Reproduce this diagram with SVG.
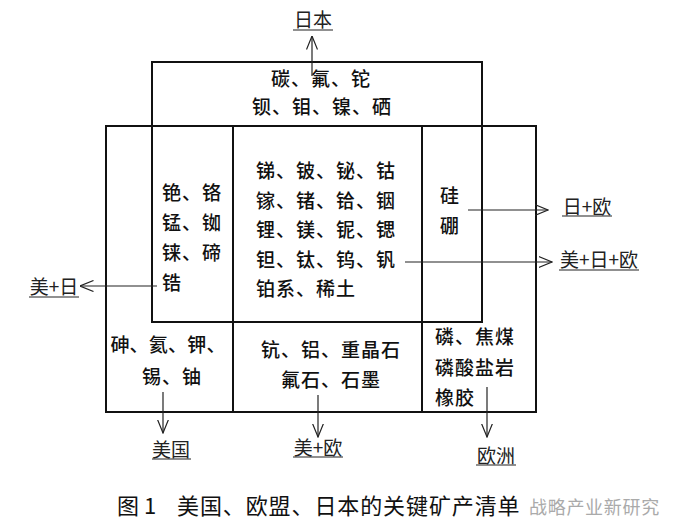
<svg xmlns="http://www.w3.org/2000/svg" width="675" height="531" viewBox="0 0 675 531">
<style>
.t{font-family:"Noto Sans CJK SC","Liberation Sans",sans-serif;font-size:19px;font-weight:500;letter-spacing:1px;fill:#111}
.c{text-anchor:middle}
.box{fill:none;stroke:#111;stroke-width:2}
.ln{stroke:#111;stroke-width:2}
.ar{stroke:#222;stroke-width:1.2;fill:none;marker-end:url(#ah)}
.ul{stroke:#222;stroke-width:1.2}
.lb{font-family:"Noto Sans CJK SC","Liberation Sans",sans-serif;font-size:19px;fill:#222;text-anchor:middle}
.cap{font-family:"Noto Sans CJK SC","Liberation Sans",sans-serif;font-size:22px;fill:#111}
.wm{font-family:"Noto Sans CJK SC","Liberation Sans",sans-serif;font-size:18px;fill:#aaa;letter-spacing:0.7px}
</style>
<defs>
<marker id="ah" markerUnits="userSpaceOnUse" viewBox="0 0 14 12" refX="13.5" refY="6" markerWidth="14" markerHeight="12" orient="auto">
<path d="M0,0.5 L13.5,6 L0,11.5" fill="none" stroke="#222" stroke-width="1.2"/>
</marker>
</defs>
<rect width="675" height="531" fill="#fff"/>

<g id="japan">
<rect class="box" x="152" y="62" width="330" height="260"/>
<text class="t c" x="321" y="86">碳、氟、铊</text>
<text class="t c" x="322" y="114">钡、钼、镍、硒</text>
</g>

<g id="frame">
<rect class="box" x="106" y="126" width="430" height="286"/>
<line class="ln" x1="233" y1="126" x2="233" y2="412"/>
<line class="ln" x1="422" y1="126" x2="422" y2="412"/>
</g>

<g id="us-japan">
<text class="t" x="162" y="200">铯、铬</text>
<text class="t" x="162" y="230">锰、铷</text>
<text class="t" x="162" y="260">铼、碲</text>
<text class="t" x="162" y="290">锆</text>
</g>

<g id="all">
<text class="t" x="256" y="178">锑、铍、铋、钴</text>
<text class="t" x="256" y="208">镓、锗、铪、铟</text>
<text class="t" x="256" y="237">锂、镁、铌、锶</text>
<text class="t" x="256" y="267">钽、钛、钨、钒</text>
<text class="t" x="256" y="296">铂系、稀土</text>
</g>

<g id="japan-eu">
<text class="t" x="440" y="203">硅</text>
<text class="t" x="440" y="233">硼</text>
</g>

<g id="us">
<text class="t c" x="168" y="352" style="letter-spacing:0.2px">砷、氦、钾、</text>
<text class="t c" x="172" y="384">锡、铀</text>
</g>

<g id="us-eu">
<text class="t c" x="331" y="357">钪、铝、重晶石</text>
<text class="t c" x="331" y="387">氟石、石墨</text>
</g>

<g id="eu">
<text class="t" x="435" y="344">磷、焦煤</text>
<text class="t" x="435" y="375">磷酸盐岩</text>
<text class="t" x="435" y="405">橡胶</text>
</g>

<g id="connectors">
<line class="ar" x1="312" y1="76" x2="312" y2="36"/>
<line class="ar" x1="157" y1="286" x2="80" y2="286"/>
<line class="ar" x1="468" y1="210" x2="548" y2="210"/>
<line class="ar" x1="405" y1="262" x2="552" y2="262"/>
<line class="ar" x1="163" y1="392" x2="163" y2="433"/>
<line class="ar" x1="318" y1="395" x2="318" y2="437"/>
<line class="ar" x1="487" y1="387" x2="487" y2="437"/>
</g>

<g id="labels">
<text class="lb" x="313" y="27">日本</text>
<line class="ul" x1="293" y1="30" x2="333" y2="30"/>
<text class="lb" x="54" y="294">美+日</text>
<line class="ul" x1="29" y1="297" x2="79" y2="297"/>
<text class="lb" x="587" y="214">日+欧</text>
<line class="ul" x1="562" y1="216" x2="612" y2="216"/>
<text class="lb" x="599" y="267">美+日+欧</text>
<line class="ul" x1="559" y1="270" x2="639" y2="270"/>
<text class="lb" x="171" y="457">美国</text>
<line class="ul" x1="152" y1="459" x2="191" y2="459"/>
<text class="lb" x="318" y="455">美+欧</text>
<line class="ul" x1="293" y1="457" x2="343" y2="457"/>
<text class="lb" x="496" y="463">欧洲</text>
<line class="ul" x1="476" y1="465" x2="516" y2="465"/>
</g>

<g id="caption">
<text class="cap" x="117" y="514">图 1</text>
<text class="cap" x="177" y="514" style="letter-spacing:0.9px">美国、欧盟、日本的关键矿产清单</text>
<text class="wm" x="529" y="514">战略产业新研究</text>
</g>
</svg>
